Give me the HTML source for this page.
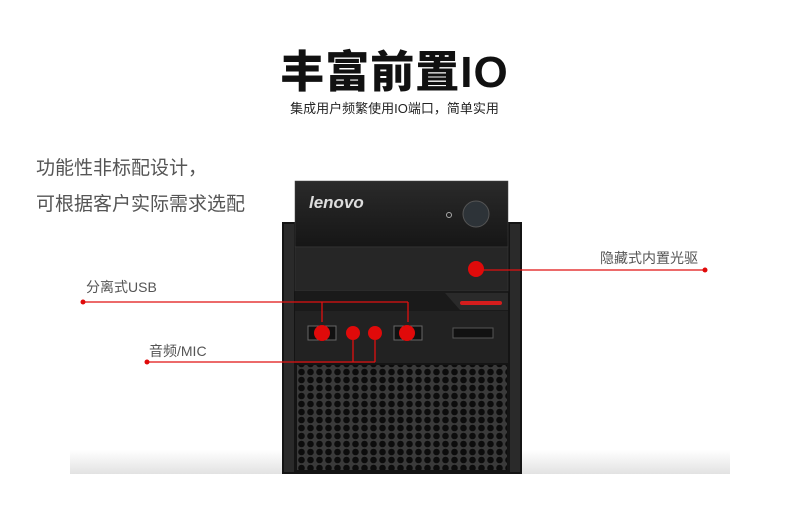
<!DOCTYPE html>
<html><head><meta charset="utf-8"><style>
body{margin:0;width:789px;height:517px;background:#fff;position:relative;overflow:hidden;font-family:"Liberation Sans","Noto Sans CJK SC",sans-serif}
.t{position:absolute;white-space:nowrap}
</style></head><body>
<div class="t" style="left:0;width:789px;top:36px;text-align:center;font-size:44px;font-weight:900;color:#111;letter-spacing:1px">丰富前置IO</div>
<div class="t" style="left:0;width:789px;top:98px;text-align:center;font-size:13px;color:#222">集成用户频繁使用IO端口，简单实用</div>
<div class="t" style="left:36px;top:153px;font-size:19px;color:#555">功能性非标配设计，</div>
<div class="t" style="left:36px;top:189px;font-size:19px;color:#555">可根据客户实际需求选配</div>
<div class="t" style="left:86px;top:277px;font-size:14px;color:#555">分离式USB</div>
<div class="t" style="left:149px;top:341px;font-size:14px;color:#555">音频/MIC</div>
<div class="t" style="left:600px;top:248px;font-size:14px;color:#555">隐藏式内置光驱</div>
<svg width="789" height="517" style="position:absolute;left:0;top:0">
<defs>
<linearGradient id="sh" x1="0" y1="0" x2="0" y2="1"><stop offset="0" stop-color="#fff"/><stop offset="1" stop-color="#e2e2e2"/></linearGradient>
<linearGradient id="bz" x1="0" y1="0" x2="0" y2="1"><stop offset="0" stop-color="#2a2a2a"/><stop offset="1" stop-color="#161616"/></linearGradient>
<pattern id="hx" width="9" height="8" patternUnits="userSpaceOnUse"><rect width="9" height="8" fill="#3a3a3a"/><circle cx="4.5" cy="4" r="3.3" fill="#0c0c0c"/></pattern>
</defs>
<rect x="70" y="450" width="660" height="24" fill="url(#sh)"/>
<rect x="282" y="222" width="240" height="252" fill="#141414"/>
<rect x="284" y="224" width="10" height="248" fill="#2a2a2a"/>
<rect x="510" y="224" width="10" height="248" fill="#2a2a2a"/>
<rect x="295" y="181" width="213" height="66" fill="url(#bz)" stroke="#444" stroke-width="0.5"/>
<text x="309" y="208" font-family="Liberation Sans" font-style="italic" font-weight="bold" font-size="17" fill="#ddd">lenovo</text>
<circle cx="476" cy="214" r="13" fill="#2d3338" stroke="#555"/>
<circle cx="449" cy="215" r="2.5" fill="none" stroke="#aaa"/>
<rect x="295" y="247" width="213" height="44" fill="#262626" stroke="#3a3a3a" stroke-width="0.5"/>
<rect x="295" y="291" width="213" height="20" fill="#1a1a1a"/>
<polygon points="445,293 508,293 508,310 460,310" fill="#2a2a2a"/>
<rect x="460" y="301" width="42" height="4" rx="2" fill="#d51d1d"/>
<rect x="295" y="311" width="213" height="52" fill="#222"/>
<rect x="453" y="328" width="40" height="10" fill="#111" stroke="#555"/>
<rect x="308" y="326" width="28" height="14" fill="#111" stroke="#666"/>
<rect x="394" y="326" width="28" height="14" fill="#111" stroke="#666"/>
<rect x="297" y="365" width="210" height="105" fill="url(#hx)"/>
<g stroke="#e01010" stroke-width="1.3" fill="none">
<polyline points="83,302 408,302"/>
<line x1="322" y1="302" x2="322" y2="322"/>
<line x1="408" y1="302" x2="408" y2="322"/>
<polyline points="147,362 375,362"/>
<line x1="353" y1="340" x2="353" y2="362"/>
<line x1="375" y1="340" x2="375" y2="362"/>
<line x1="476" y1="270" x2="705" y2="270"/>
</g>
<g fill="#e00a0a">
<circle cx="83" cy="302" r="2.5"/><circle cx="147" cy="362" r="2.5"/><circle cx="705" cy="270" r="2.5"/>
<circle cx="476" cy="269" r="8"/>
<circle cx="322" cy="333" r="8"/><circle cx="407" cy="333" r="8"/>
<circle cx="353" cy="333" r="7"/><circle cx="375" cy="333" r="7"/>
</g>
</svg>
</body></html>
